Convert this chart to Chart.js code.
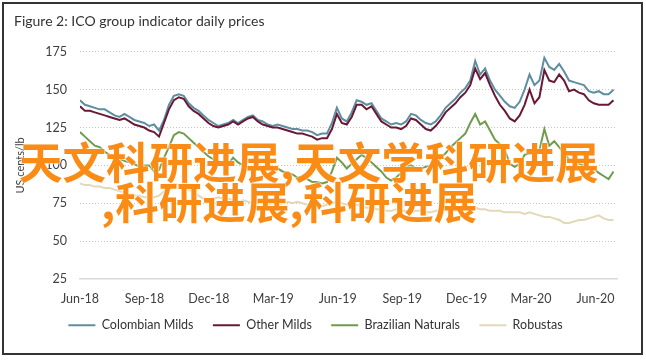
<!DOCTYPE html>
<html>
<head>
<meta charset="utf-8">
<script src="https://cdn.jsdelivr.net/npm/chart.js@4.4.1/dist/chart.umd.min.js"></script>
<style>
  html, body { margin: 0; padding: 0; background: #fff; }
  #frame { position: absolute; left: 2px; top: 2px; width: 637px; height: 349px; border: 2px solid #333; }
  #wrap { position: absolute; left: 0; top: 0; width: 646px; height: 360px; }
  .stamp {
    position: absolute; font-family: "Noto Sans CJK SC", sans-serif; font-weight: 700;
    font-size: 43.5px; line-height: 44px; color: #fa8c16; white-space: nowrap;
    text-shadow: 0 0 2px #fff, 0 0 2px #fff;
  }
</style>
</head>
<body>
<div id="frame"></div>
<div id="wrap"><canvas id="chart" width="646" height="360"></canvas></div>
<div class="stamp" style="left:19px; top:139px;">天文科研进展,天文学科研进展</div>
<div class="stamp" style="left:101px; top:179px;">,科研进展,科研进展</div>
<script>
// weekly readings, Jun-18 .. end of Jun-20 (US cents/lb)
const tickLabels = ["Jun-18", "Sep-18", "Dec-18", "Mar-19", "Jun-19", "Sep-19", "Dec-19", "Mar-20", "Jun-20"];
const seriesNames = ["Colombian Milds", "Other Milds", "Brazilian Naturals", "Robustas"];

const colombian = [143,140,139,138,137,137,135,133,132,134, 132,130,129,128,126,127,123,130,140,146,
  147,146,141,138,136,133,130,128,126,127, 128,130,128,130,132,133,130,129,127,126,
  127,126,125,124,124,123,123,122,120,121, 121,128,138,131,129,135,143,142,140,141,
  136,131,129,127,128,127,129,134,133,130, 128,127,129,133,138,141,144,148,151,156,
  169,160,164,156,150,146,142,139,138,142, 150,160,153,156,171,165,163,167,162,156,
  155,154,153,149,148,149,147,147,150];
const otherMilds = [139,136,136,135,134,133,132,131,130,131, 129,127,126,125,123,122,119,128,137,143,
  145,144,139,136,134,131,128,126,125,126, 127,129,127,129,131,132,129,127,126,125,
  125,124,123,122,121,121,120,119,117,118, 118,124,134,128,127,132,140,140,137,139,
  134,129,127,125,125,124,126,131,130,127, 124,123,126,130,135,138,141,145,148,153,
  164,157,161,153,146,140,136,131,129,133, 140,150,141,145,163,156,155,160,156,149,
  150,148,147,143,141,140,140,140,143];
const brazilian = [122,119,116,113,112,109,107,105,104,103, 102,101,99,100,100,96,97,105,112,120,
  122,121,118,115,112,109,106,104,103,101, 101,105,102,100,98,97,98,99,100,99,
  98,96,95,94,92,92,91,89,89,88, 89,96,105,102,98,101,104,107,105,102,
  99,96,92,90,92,95,99,100,98,98, 99,100,101,105,108,112,115,118,121,128,
  134,127,129,123,117,114,110,101,99,101, 107,108,107,110,124,113,116,112,108,104,
  103,101,100,99,98,95,93,91,96];
const robustas = [88,87,87,86,86,85,85,84,83,82, 81,80,80,79,79,79,80,83,86,88,
  87,86,84,82,80,78,77,78,79,78, 78,77,76,77,76,75,75,75,74,75,
  74,75,76,75,76,75,74,74,74,73, 74,75,76,75,74,73,74,73,72,72,
  71,71,70,70,71,70,70,69,70,70, 69,69,70,70,71,71,70,71,71,72,
  72,71,71,70,70,70,69,69,69,69, 68,69,68,67,66,66,65,64,62,62,
  63,64,64,65,66,67,65,64,64];

const colors = ["#5e8ea0", "#6a1836", "#6e9b4c", "#e3d8b8"];
const drawOrder = [1, 0, 2, 3]; // maroon on top of blue

// x in months since Jun-18, one point per week
const toPoints = arr => arr.map((v, i) => ({ x: i * 7 / 30.4375, y: v }));

const font = { family: "Lato, 'Open Sans', sans-serif", size: 12.5 };

new Chart(document.getElementById("chart"), {
  type: "line",
  data: {
    datasets: [colombian, otherMilds, brazilian, robustas].map((arr, k) => ({
      label: seriesNames[k],
      data: toPoints(arr),
      borderColor: colors[k],
      backgroundColor: colors[k],
      borderWidth: 2,
      pointRadius: 0,
      tension: 0,
      order: drawOrder[k]
    }))
  },
  options: {
    responsive: false,
    animation: false,
    layout: { padding: { left: 14, right: 29, top: 0, bottom: 18.5 } },
    plugins: {
      title: {
        display: true,
        text: "Figure 2: ICO group indicator daily prices",
        align: "start",
        color: "#333",
        font: { family: font.family, size: 14, weight: "normal" },
        padding: { top: 13, bottom: 22 }
      },
      legend: {
        position: "bottom",
        labels: {
          color: "#333",
          font: font,
          boxWidth: 27,
          boxHeight: 2,
          padding: 10,
          sort: (a, b) => a.datasetIndex - b.datasetIndex,
          // thin line swatch, a bit more room between entries
          generateLabels: chart => Chart.defaults.plugins.legend.labels.generateLabels(chart)
            .map((item, i, all) => Object.assign(item, {
              lineWidth: 0,
              text: i < all.length - 1 ? item.text + "\u2003" : item.text
            }))
        }
      },
      tooltip: { enabled: false }
    },
    scales: {
      x: {
        type: "linear",
        min: 0,
        max: 25,
        afterFit: s => { s.height = 30; },
        grid: { display: false, drawTicks: false },
        border: { display: true, color: "#d9d9d9", width: 1.5 },
        ticks: {
          stepSize: 3,
          includeBounds: false,
          maxRotation: 0,
          padding: 12,
          color: "#404040",
          font: font,
          callback: v => tickLabels[v / 3]
        }
      },
      y: {
        min: 25,
        max: 175,
        afterFit: s => { s.width = 66; },
        grid: {
          drawTicks: false,
          color: ctx => ctx.tick && ctx.tick.value === 25 ? "transparent" : "#c4c4c4",
          lineWidth: 1
        },
        border: { display: false, dash: [1, 2] },
        ticks: { stepSize: 25, padding: 13, color: "#404040", font: font },
        title: {
          display: true,
          text: "US cents/lb",
          color: "#404040",
          font: { family: font.family, size: 11 },
          padding: { top: 0, bottom: 0 }
        }
      }
    }
  }
});
</script>
</body>
</html>
